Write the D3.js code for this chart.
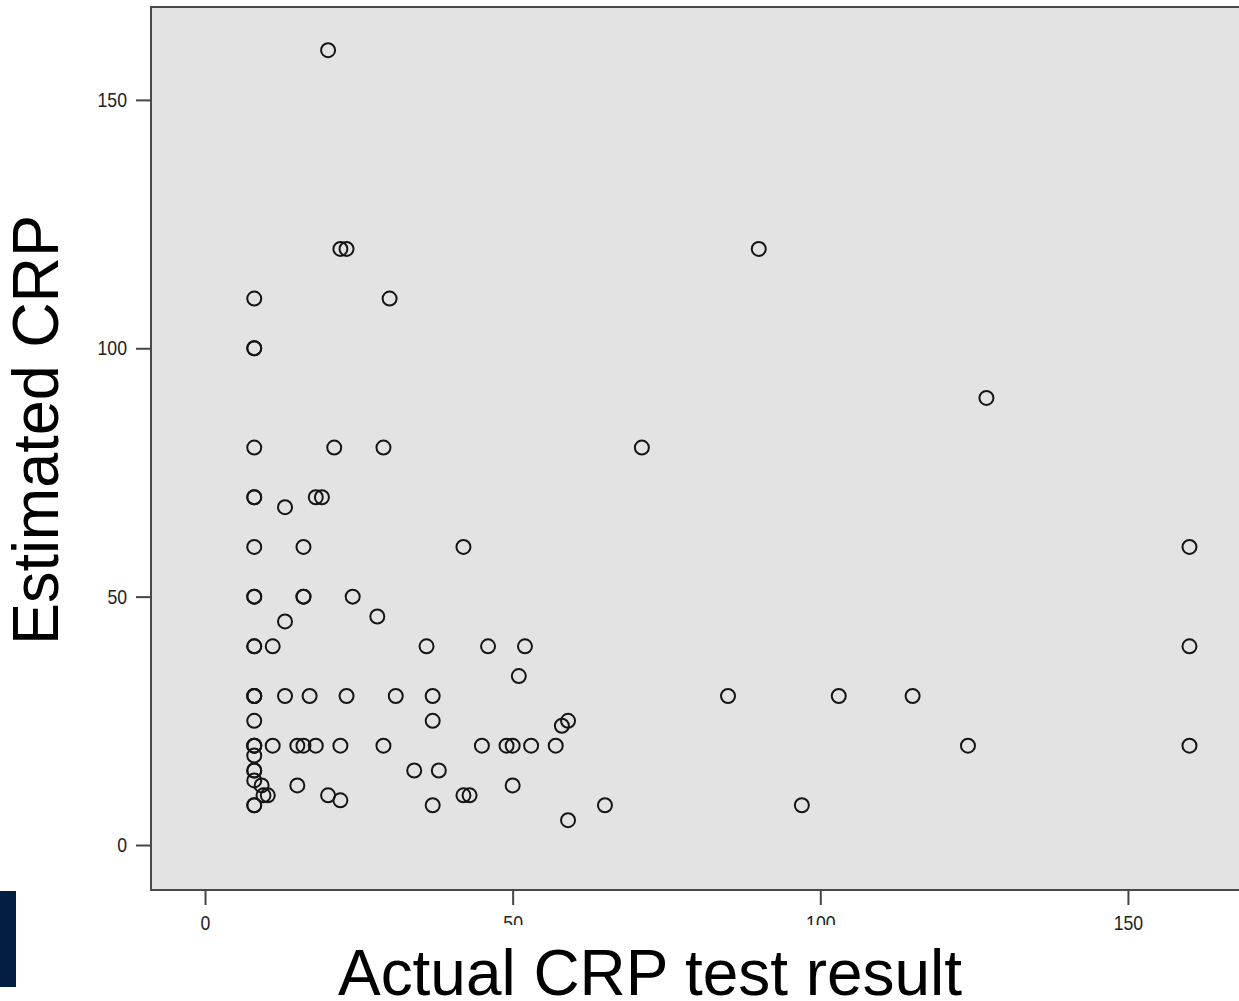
<!DOCTYPE html>
<html>
<head>
<meta charset="utf-8">
<script src="https://cdn.jsdelivr.net/npm/d3@7"></script>
<style>
    html, body { margin: 0; padding: 0; background: #fff; overflow: hidden; }
    svg { display: block; }
</style>
</head>
<body>
<svg id="chart" width="1239" height="1001"></svg>
<script>

// actual CRP test result (x) vs estimated CRP (y), one entry per patient
const actual = [
    20,
    22, 23, 90,
    8, 30,
    8, 8,
    127,
    8, 21, 29, 71,
    8, 8, 18, 19, 13,
    8, 16, 42, 160,
    8, 8, 16, 16, 24,
    28, 13,
    8, 8, 11, 36, 46, 52, 160,
    51,
    8, 8, 8, 13, 17, 23, 31, 37, 85, 103, 115,
    8, 37, 59, 58,
    8, 8, 8, 11, 15, 16, 18, 22, 29, 45, 49, 50, 53, 57, 124, 160,
    8, 8, 8, 8, 9.2, 15, 50,
    34, 38,
    9.5, 10.2, 20, 42, 43, 22,
    8, 8, 37, 65, 97,
    59
]

const estimated = [
    160,
    120, 120, 120,
    110, 110,
    100, 100,
    90,
    80, 80, 80, 80,
    70, 70, 70, 70, 68,
    60, 60, 60, 60,
    50, 50, 50, 50, 50,
    46, 45,
    40, 40, 40, 40, 40, 40, 40,
    34,
    30, 30, 30, 30, 30, 30, 30, 30, 30, 30, 30,
    25, 25, 25, 24,
    20, 20, 20, 20, 20, 20, 20, 20, 20, 20, 20, 20, 20, 20, 20, 20,
    18, 15, 15, 13, 12, 12, 12,
    15, 15,
    10, 10, 10, 10, 10, 9,
    8, 8, 8, 8, 8,
    5
]

const xTicks = [0, 50, 100, 150]
const yTicks = [0, 50, 100, 150]

const xTitle = 'Actual CRP test result'
const yTitle = 'Estimated CRP'

const svg = d3.select('#chart')

const plotLeft = 151
const plotTop = 7
const plotBottom = 890
const plotW = 1100

const x = d3.scaleLinear().domain([-8.78, 170]).range([plotLeft, plotLeft + plotW])
const y = d3.scaleLinear().domain([-9.06, 168.7]).range([plotBottom, plotTop])

const font = '"Liberation Sans", Arial, sans-serif'

// plot background + frame
svg.append('rect')
    .attr('x', plotLeft)
    .attr('y', plotTop)
    .attr('width', plotW)
    .attr('height', plotBottom - plotTop)
    .attr('fill', '#e3e3e3')
    .attr('stroke', '#4a4a4a')
    .attr('stroke-width', 2)

svg.append('g')
    .attr('transform', `translate(0,${plotBottom})`)
    .call(d3.axisBottom(x).tickValues(xTicks).tickSize(15).tickPadding(10).tickFormat(d3.format('d')))

svg.append('g')
    .attr('transform', `translate(${plotLeft},0)`)
    .call(d3.axisLeft(y).tickValues(yTicks).tickSize(15).tickPadding(9).tickFormat(d3.format('d')))

svg.selectAll('.domain').remove()
svg.selectAll('.tick line').attr('stroke', '#444').attr('stroke-width', 2)
svg.selectAll('.tick text')
    .attr('fill', '#222')
    .attr('font-family', font)
    .attr('font-size', 21)
    .each(function () {
        const w = this.getComputedTextLength()
        d3.select(this).attr('textLength', w * 0.84).attr('lengthAdjust', 'spacingAndGlyphs')
    })

// points
svg.append('g').attr('id', 'nodes')
    .selectAll('circle')
    .data(actual.map((a, i) => ({ a: a, e: estimated[i] })))
    .enter()
    .append('circle')
    .attr('cx', d => x(d.a))
    .attr('cy', d => y(d.e))
    .attr('r', 7)
    .attr('fill', 'none')
    .attr('stroke', '#151515')
    .attr('stroke-width', 2)

// white box behind the x title (it hides the top of some tick labels)
svg.append('rect')
    .attr('x', 330)
    .attr('y', 925)
    .attr('width', 670)
    .attr('height', 76)
    .attr('fill', '#fff')

svg.append('text')
    .attr('x', 650)
    .attr('y', 995)
    .attr('text-anchor', 'middle')
    .attr('font-family', font)
    .attr('font-size', 64)
    .attr('fill', '#000')
    .attr('textLength', 624)
    .attr('lengthAdjust', 'spacingAndGlyphs')
    .text(xTitle)

svg.append('text')
    .attr('transform', 'translate(58,430) rotate(-90)')
    .attr('text-anchor', 'middle')
    .attr('font-family', font)
    .attr('font-size', 64)
    .attr('fill', '#000')
    .attr('textLength', 430)
    .attr('lengthAdjust', 'spacingAndGlyphs')
    .text(yTitle)

// navy slide marker at the lower left
svg.append('rect')
    .attr('x', 0)
    .attr('y', 891)
    .attr('width', 16)
    .attr('height', 96)
    .attr('fill', '#041e42')

</script>
</body>
</html>
